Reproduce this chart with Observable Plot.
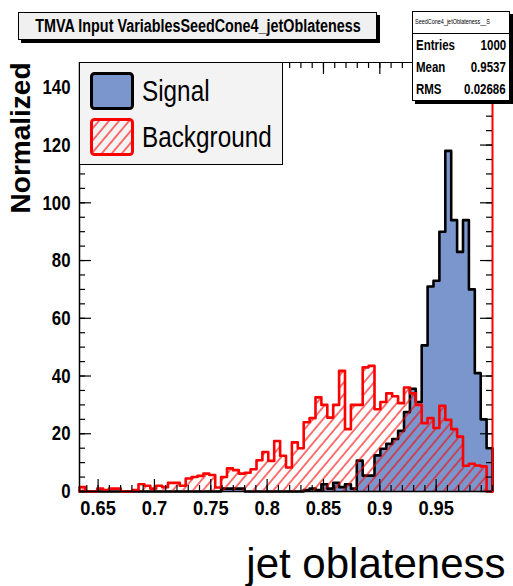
<!DOCTYPE html>
<html>
<head>
<meta charset="utf-8">
<script src="https://cdn.jsdelivr.net/npm/d3@7"></script>
<script src="https://cdn.jsdelivr.net/npm/@observablehq/plot@0.6"></script>
<style>
  body { margin: 0; background: #fff; }
  #wrap { position: relative; width: 513px; height: 586px; overflow: hidden;
          font-family: "Liberation Sans", Arial, sans-serif; }
  #wrap svg.chart { position: absolute; left: 0; top: 0; }
  .box { position: absolute; box-sizing: border-box; border: 1px solid #000; }
  .sq { display: inline-block; white-space: nowrap; }
  #title { left: 18px; top: 12px; width: 359px; height: 28px; background: #f0f0f0;
           box-shadow: 3px 3px 0 #000; font-weight: bold; font-size: 17.5px;
           line-height: 27px; white-space: nowrap; }
  #title .sq { position: absolute; left: 50%; top: 0; transform-origin: left;
               transform: scaleX(0.82) translateX(-50%); }
  #stats { left: 412px; top: 11px; width: 98px; height: 90px; background: #fff;
           box-shadow: 3px 3px 0 #000; }
  #stats .head { height: 21px; border-bottom: 1px solid #000; font-size: 7px;
                 line-height: 20px; padding-left: 2px; white-space: nowrap; overflow: hidden; }
  #stats .head .sq { transform: scaleX(0.78); transform-origin: left; }
  #stats .row { position: relative; font-weight: bold; font-size: 14px; height: 22px; line-height: 22px; }
  #stats .row .k { position: absolute; left: 3px; transform: scaleX(0.82); transform-origin: left; }
  #stats .row .v { position: absolute; right: 3px; transform: scaleX(0.82); transform-origin: right; }
  #legend { left: 79px; top: 62px; width: 204px; height: 103px; background: #f3f3f3; }
  .lgItem { position: absolute; left: 10px; height: 38px; white-space: nowrap; }
  .lgItem svg { position: absolute; left: 0; top: 0; }
  .lgItem .sq { position: absolute; left: 52px; top: 0; font-size: 30px; line-height: 38px;
                transform: scaleX(0.81); transform-origin: left; }
</style>
</head>
<body>
<div id="wrap"></div>
<script>
// Binning of the jet oblateness histograms
const xLo = 0.6335;
const xHi = 1.0;

// Normalized bin contents, 70 equal bins between xLo and xHi
const signal = [
  0, 0, 0, 0, 0, 0, 0, 0, 0, 0,
  0, 0, 0, 0, 0, 0, 0, 0, 0, 0,
  0, 0, 0, 0, 1, 1, 1, 1, 0, 0,
  0, 0, 0, 0, 0, 0, 0, 0, 0.5, 1,
  0.5, 2.5, 1, 3, 1.5, 2.5, 1, 10.7, 5.5, 5.5,
  12.5, 14.8, 16.5, 18.2, 21, 27.5, 35.6, 31, 50.6, 71,
  73, 90, 118, 94, 83, 94, 70, 41, 25, 15
];
const background = [
  1.5, 0, 0, 1, 0.5, 1, 1, 0, 0, 0.5,
  2.5, 2, 1, 2, 1.5, 3, 3, 2, 4.5, 5,
  5.4, 6.2, 5.7, 1.4, 5, 8, 7.4, 6.2, 6.5, 7.7,
  10.8, 13.7, 10.6, 17.5, 12.4, 8.3, 17, 15, 24, 25.4,
  32.6, 30, 25.6, 30, 41.8, 21.6, 30, 30, 43, 43.5,
  28.5, 31, 34, 33, 30.6, 36, 34, 30, 23.7, 25.4,
  22, 29.7, 24.8, 21.6, 19, 8.9, 9.6, 9, 8.7, 0
];

// Axis ticks and labels
const xTickValues = [0.65, 0.7, 0.75, 0.8, 0.85, 0.9, 0.95];
const xTickLabels = ["0.65", "0.7", "0.75", "0.8", "0.85", "0.9", "0.95"];
const yTickValues = [0, 20, 40, 60, 80, 100, 120, 140];
const yTickLabels = ["0", "20", "40", "60", "80", "100", "120", "140"];
const yTop = 148.6;

// Text
const titleText = "TMVA Input VariablesSeedCone4_jetOblateness";
const statsName = "SeedCone4_jetOblateness__S";
const statsRows = [["Entries", "1000"], ["Mean", "0.9537"], ["RMS", "0.02686"]];
const legendLabels = ["Signal", "Background"];
const xTitle = "jet oblateness";
const yTitle = "Normalized";

const signalFill = "#7b96cc";
const bgRed = "#ff0000";
const font = "'Liberation Sans', Arial, sans-serif";

const W = 513, H = 586, mL = 79, mR = 21, mT = 62, mB = 95;
const innerH = H - mT - mB;
const innerW = W - mL - mR;

// Turn bin contents into a closed step outline
function stepPoints(values) {
  const w = (xHi - xLo) / values.length;
  const pts = [{x: xLo, v: 0}];
  values.forEach((v, i) => pts.push({x: xLo + i * w, v}));
  pts.push({x: xHi, v: values[values.length - 1]});
  pts.push({x: xHi, v: 0});
  return pts;
}
const sigPts = stepPoints(signal);
const bkgPts = stepPoints(background);

const xMinor = d3.range(64, 101).map(d => d / 100);
const yMinor = d3.range(0, 150, 5);

const major = 12, minor = 6;

const chart = Plot.plot({
  width: W, height: H,
  marginLeft: mL, marginRight: mR, marginTop: mT, marginBottom: mB,
  x: {domain: [xLo, xHi], axis: null},
  y: {domain: [0, yTop], axis: null},
  style: {background: "transparent", fontFamily: font, color: "#000"},
  marks: [
    // signal: filled histogram with black outline
    Plot.areaY(sigPts, {x: "x", y: "v", curve: "step-after", fill: signalFill}),
    Plot.line(sigPts, {x: "x", y: "v", curve: "step-after", stroke: "#000", strokeWidth: 2.6}),
    // background: hatched histogram with red outline
    Plot.areaY(bkgPts, {x: "x", y: "v", curve: "step-after", fill: "url(#bgHatch)"}),
    Plot.line(bkgPts, {x: "x", y: "v", curve: "step-after", stroke: bgRed, strokeWidth: 2.6}),
    // frame
    Plot.ruleY([0], {stroke: "#000", strokeWidth: 1.5}),
    Plot.ruleY([yTop], {stroke: "#000", strokeWidth: 1.2}),
    Plot.ruleX([xLo], {stroke: "#000", strokeWidth: 1.5}),
    Plot.ruleX([xHi], {stroke: bgRed, strokeWidth: 2}),
    // ticks on all four sides
    Plot.ruleX(xMinor, {x: d => d, insetTop: innerH - minor, stroke: "#000", strokeWidth: 1.2}),
    Plot.ruleX(xTickValues, {x: d => d, insetTop: innerH - major, stroke: "#000", strokeWidth: 1.2}),
    Plot.ruleX(xMinor, {x: d => d, insetBottom: innerH - minor, stroke: "#000", strokeWidth: 1.2}),
    Plot.ruleX(xTickValues, {x: d => d, insetBottom: innerH - major, stroke: "#000", strokeWidth: 1.2}),
    Plot.ruleY(yMinor, {y: d => d, insetRight: innerW - minor, stroke: "#000", strokeWidth: 1.2}),
    Plot.ruleY(yTickValues, {y: d => d, insetRight: innerW - major, stroke: "#000", strokeWidth: 1.2}),
    Plot.ruleY(yMinor, {y: d => d, insetLeft: innerW - minor, stroke: "#000", strokeWidth: 1.2}),
    Plot.ruleY(yTickValues, {y: d => d, insetLeft: innerW - major, stroke: "#000", strokeWidth: 1.2}),
    // tick labels
    Plot.text(xTickValues, {x: d => d, text: (d, i) => xTickLabels[i], frameAnchor: "bottom",
      dy: 23, fontSize: 21, fontWeight: "bold", fill: "#000"}),
    Plot.text(yTickValues, {y: d => d, text: (d, i) => yTickLabels[i], frameAnchor: "left",
      dx: -9, textAnchor: "end", fontSize: 21, fontWeight: "bold", fill: "#000"}),
    // axis titles
    Plot.text([yTitle], {frameAnchor: "top-left", rotate: -90, textAnchor: "end", lineAnchor: "middle",
      dx: -58, fontSize: 28, fontWeight: "bold", fill: "#000"}),
    Plot.text([xTitle], {frameAnchor: "bottom-right", textAnchor: "end", lineAnchor: "bottom",
      dx: 13, dy: 86, fontSize: 42, fill: "#000"})
  ]
});
chart.classList.add("chart");

// tick labels use a condensed bold face: squeeze them horizontally about their anchor
const xLabelSet = new Set(xTickLabels);
const yLabelSet = new Set(yTickLabels);
d3.select(chart).selectAll("text").each(function() {
  const t = this.textContent;
  let k = null;
  if (xLabelSet.has(t)) k = 0.87;
  else if (yLabelSet.has(t)) k = 0.8;
  if (k === null) return;
  const x = +this.getAttribute("x") || 0, y = +this.getAttribute("y") || 0;
  const prev = this.getAttribute("transform") || "";
  this.setAttribute("transform", `${prev} translate(${x},${y}) scale(${k},1) translate(${-x},${-y})`);
});

// diagonal hatch used by the background histogram
const defs = d3.select(chart).insert("defs", ":first-child");
const pat = defs.append("pattern").attr("id", "bgHatch").attr("patternUnits", "userSpaceOnUse")
  .attr("width", 7.7).attr("height", 7.7).attr("patternTransform", "rotate(40)");
pat.append("line").attr("x1", 1).attr("y1", 0).attr("x2", 1).attr("y2", 7.7)
  .attr("stroke", bgRed).attr("stroke-width", 1.1);

const wrap = document.getElementById("wrap");
wrap.appendChild(chart);

// title box
const title = document.createElement("div");
title.id = "title"; title.className = "box";
title.innerHTML = `<span class="sq">${titleText}</span>`;
wrap.appendChild(title);

// statistics box
const stats = document.createElement("div");
stats.id = "stats"; stats.className = "box";
let html = `<div class="head"><span class="sq">${statsName}</span></div>`;
statsRows.forEach(([k, v]) => {
  html += `<div class="row"><span class="sq k">${k}</span><span class="sq v">${v}</span></div>`;
});
stats.innerHTML = html;
wrap.appendChild(stats);

// legend
const legend = document.createElement("div");
legend.id = "legend"; legend.className = "box";
const swatches = [
  `<svg width="44" height="38"><rect x="1.5" y="1.5" width="41" height="35" rx="3" fill="${signalFill}" stroke="#000" stroke-width="3"/></svg>`,
  `<svg width="44" height="38"><rect x="1.5" y="1.5" width="41" height="35" rx="3" fill="url(#bgHatch)" stroke="${bgRed}" stroke-width="3"/></svg>`
];
const itemTops = [9, 55];
legendLabels.forEach((lab, i) => {
  const it = document.createElement("div");
  it.className = "lgItem";
  it.style.top = itemTops[i] + "px";
  it.innerHTML = swatches[i] + `<span class="sq">${lab}</span>`;
  legend.appendChild(it);
});
wrap.appendChild(legend);
</script>
</body>
</html>
